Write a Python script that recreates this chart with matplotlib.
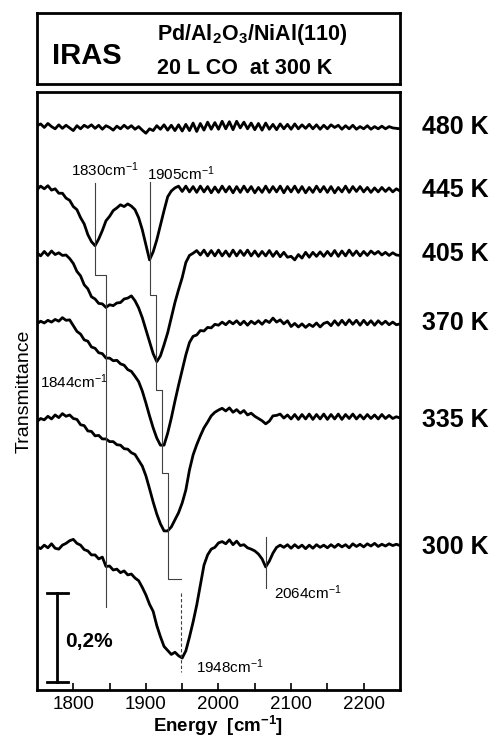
import matplotlib
matplotlib.use('Agg')
import matplotlib.pyplot as plt
import matplotlib.transforms as mtransforms
import numpy as np

plt.rcParams['font.family'] = ['Liberation Sans', 'DejaVu Sans']
plt.rcParams['mathtext.default'] = 'regular'

# energy grid of the spectra [cm-1]
energy = np.arange(1750, 2251, 5)

# transmittance change, units of 0.01 %, relative to each baseline
t480 = [0.3, 0.7, -0.1, 0.8, 0.1, -0.4, 0.5, -0.3, 0.4, -0.2,
        -0.8, 0.3, -0.4, 0.4, -0.1, 0.5, -0.3, 0.4, -0.5, 0.3,
        -0.1, -0.7, 0.2, -0.4, 0.4, -0.3, 0.3, -0.5, 0.1, -0.7,
        -1.4, -0.4, -0.8, 0.3, -0.5, 0.5, -0.7, 0.4, -0.8, 0.5,
        -0.9, 0.6, -0.8, 0.9, -1.0, 0.8, -0.7, 1.1, -0.5, 1.0,
        -0.5, 1.3, -0.4, 1.2, -0.6, 1.3, -0.2, 1.1, -0.4, 0.9,
        -0.6, 0.8, -0.7, 0.9, -0.5, 0.6, -0.6, 0.7, -0.4, 0.6,
        -0.5, 0.7, -0.4, 0.5, -0.3, 0.6, -0.4, 0.5, -0.5, 0.4,
        -0.4, 0.5, -0.1, 0.4, -0.5, 0.3, -0.4, 0.4, -0.5, 0.1,
        -0.4, 0.3, -0.5, 0.1, -0.4, 0.2, -0.4, 0.1, -0.2, -0.3, -0.4]
t445 = [0.0, 0.8, 0.2, 0.9, -0.1, 0.2, -0.8, -0.8, -1.9, -2.4,
        -3.8, -4.5, -6.3, -7.7, -10.1, -11.7, -12.6, -11.1, -9.2, -7.0,
        -6.0, -4.7, -4.1, -3.4, -3.8, -3.2, -3.7, -4.5, -6.3, -9.0,
        -12.4, -15.8, -14.0, -11.3, -8.0, -4.7, -1.6, -0.3, 0.4, 0.8,
        -0.4, 0.8, -0.5, 0.7, -0.6, 0.8, -0.5, 0.7, -0.7, 0.6,
        -0.6, 0.8, -0.5, 0.7, -0.7, 0.7, -0.6, 0.8, -0.5, 0.7,
        -0.7, 0.5, -0.6, 0.8, -0.6, 0.7, -0.5, 0.8, -0.7, 0.7,
        -0.5, 0.8, -0.6, 0.7, -0.7, 0.5, -0.6, 0.8, -0.5, 0.7,
        -0.6, 0.7, -0.7, 0.5, -0.5, 0.8, -0.6, 0.7, -0.4, 0.7,
        -0.5, 0.5, -0.6, 0.4, -0.5, 0.5, -0.4, 0.4, -0.5, 0.2, -0.3]
t405 = [0.2, -0.5, 0.5, -0.4, 0.6, -0.2, 0.2, -0.4, -0.3, -1.1,
        -2.2, -4.0, -5.0, -7.0, -7.9, -9.7, -10.2, -11.2, -11.3, -12.1,
        -11.5, -11.7, -11.1, -11.0, -10.2, -10.0, -9.5, -10.6, -12.2, -14.4,
        -17.1, -19.8, -22.5, -24.3, -23.0, -20.5, -17.8, -14.4, -11.0, -8.1,
        -5.4, -2.0, -0.4, 0.1, 0.7, -0.3, 0.8, -0.5, 0.7, -0.5,
        0.8, -0.5, 0.6, -0.6, 0.8, -0.5, 0.7, -0.4, 0.8, -0.5,
        0.6, -0.6, 0.5, -0.5, 0.7, -0.6, 0.5, -0.7, 0.3, -0.8,
        -0.6, -1.4, -0.2, -1.0, 0.3, -0.8, 0.3, -0.6, 0.4, -0.6,
        0.5, -0.5, 0.7, -0.6, 0.6, -0.5, 0.8, -0.4, 0.6, -0.5,
        0.5, -0.4, 0.6, -0.1, 0.5, -0.3, 0.3, -0.4, 0.2, -0.3, -0.4]
t370 = [-0.2, 0.4, 0.0, 0.6, 0.2, 0.8, 0.4, 1.2, 0.6, 0.7,
        -0.6, -1.9, -2.5, -3.8, -4.1, -5.4, -5.7, -6.7, -6.9, -7.9,
        -7.9, -8.5, -8.4, -9.2, -9.5, -10.5, -10.9, -12.0, -13.2, -15.3,
        -18.0, -20.9, -23.6, -25.9, -27.5, -27.5, -24.8, -21.4, -17.6, -14.0,
        -10.6, -7.2, -4.4, -3.0, -2.7, -1.7, -1.8, -1.0, -1.1, -0.3,
        -0.5, 0.2, -0.4, 0.4, -0.2, 0.5, -0.4, 0.4, -0.5, 0.4,
        -0.2, 0.5, -0.3, 0.6, 0.1, 1.1, 0.2, 0.7, -0.2, 0.5,
        -0.8, -0.1, -0.9, -0.2, -1.0, -0.3, -0.8, 0.0, -0.9, -0.1,
        0.2, -0.6, 0.5, -0.5, 0.6, -0.4, 0.7, -0.3, 0.6, -0.5,
        0.6, -0.4, 0.5, -0.5, 0.5, -0.3, 0.4, -0.4, 0.2, -0.4, -0.2]
t335 = [-0.4, 0.3, 0.0, 0.8, 0.2, 1.1, 0.5, 1.4, 0.8, 1.1,
        0.3, 0.1, -1.1, -1.3, -2.5, -2.6, -3.6, -3.5, -4.3, -4.3,
        -4.9, -4.9, -5.6, -5.7, -6.5, -6.6, -7.4, -7.8, -9.1, -10.4,
        -12.6, -15.5, -18.5, -21.2, -23.4, -25.0, -25.0, -24.1, -22.5, -20.9,
        -18.7, -15.8, -11.3, -7.9, -5.6, -3.6, -1.8, -0.5, 0.9, 1.7,
        2.2, 2.6, 2.0, 2.7, 1.7, 2.3, 1.5, 2.1, 1.1, 1.5,
        0.8, 0.3, -0.2, -0.9, -0.3, 0.9, 1.0, 1.3, 0.4, 1.1,
        0.2, 1.2, 0.1, 1.2, 0.2, 1.3, 0.1, 1.2, 0.2, 1.3,
        0.1, 1.2, 0.2, 1.3, 0.1, 1.2, 0.3, 1.3, 0.2, 1.1,
        0.2, 1.2, 0.3, 1.1, 0.2, 1.2, 0.3, 1.0, 0.3, 0.7, 0.4]
t300 = [0.1, -0.4, 0.4, -0.2, 0.7, -0.3, -0.5, 0.4, 0.8, 1.4,
        1.7, 0.8, 0.4, -0.6, -0.9, -1.8, -1.8, -2.7, -2.3, -4.4,
        -4.3, -5.2, -5.0, -5.8, -5.4, -6.3, -6.1, -7.0, -7.6, -9.1,
        -10.8, -12.9, -14.5, -17.7, -20.2, -22.4, -23.3, -24.2, -23.7, -24.5,
        -25.0, -23.4, -20.3, -16.9, -13.1, -8.6, -4.1, -1.8, -0.5, -0.1,
        0.9, 1.2, 0.7, 1.6, 0.5, 1.3, 0.3, 0.5, -0.2, -0.5,
        -0.9, -1.6, -2.7, -4.5, -3.2, -1.4, -0.1, 0.4, -0.1, 0.5,
        -0.3, 0.5, -0.2, 0.4, -0.4, 0.4, -0.3, 0.5, -0.1, 0.4,
        -0.2, 0.5, -0.1, 0.6, 0.0, 0.5, -0.2, 0.7, 0.1, 0.6,
        0.0, 0.7, 0.2, 0.8, 0.1, 0.6, 0.2, 0.7, 0.3, 0.6, 0.3]

spectra = [t480, t445, t405, t370, t335, t300]
temps = ['480 K', '445 K', '405 K', '370 K', '335 K', '300 K']
offsets = [-7.9, -22.0, -36.4, -52.0, -73.8, -102.4]

# peak marker lines (energy, level pairs)
step_1830_x = [1830, 1830, 1845, 1845]
step_1830_y = [-20.5, -41.2, -41.2, -115.9]
step_1905_x = [1906, 1906, 1914, 1914, 1922, 1922, 1930, 1930, 1948]
step_1905_y = [-20.3, -45.7, -45.7, -67.1, -67.1, -85.7, -85.7, -109.6, -109.6]

fig = plt.figure(figsize=(4.98, 7.42), dpi=100)

# header box
hx = fig.add_axes([0.0743, 0.887, 0.7289, 0.0955])
hx.set_xticks([])
hx.set_yticks([])
for s in hx.spines.values():
    s.set_linewidth(2.0)
hx.text(0.04, 0.40, 'IRAS', fontsize=21, fontweight='bold', va='center', ha='left')
hx.text(0.33, 0.70, 'Pd/Al$_2$O$_3$/NiAl(110)', fontsize=15.5, fontweight='bold',
        va='center', ha='left')
hx.text(0.33, 0.22, '20 L CO  at 300 K', fontsize=15.5, fontweight='bold',
        va='center', ha='left')

ax = fig.add_axes([0.0743, 0.0701, 0.7289, 0.806])
for sp, off in zip(spectra, offsets):
    ax.plot(energy, np.array(sp) + off, color='black', lw=2.0)

lab = mtransforms.blended_transform_factory(ax.transAxes, ax.transData)
for name, off in zip(temps, offsets):
    ax.text(1.06, off, name, transform=lab, fontsize=18, fontweight='bold',
            va='center', ha='left')

# peak annotations
ax.plot(step_1830_x, step_1830_y, color='0.25', lw=0.8)
ax.plot(step_1905_x, step_1905_y, color='0.25', lw=0.8)
ax.plot([1948, 1948], [-112.7, -130.5], color='0.25', lw=0.8, ls=(0, (3, 2)))
ax.plot([2065, 2065], [-100.1, -111.6], color='0.25', lw=0.8)
ax.text(1843, -17.6, '1830cm$^{-1}$', fontsize=11, ha='center', va='center')
ax.text(1949, -18.5, '1905cm$^{-1}$', fontsize=11, ha='center', va='center')
ax.text(1754, -65.3, '1844cm$^{-1}$', fontsize=11, ha='left', va='center')
ax.text(2077, -112.7, '2064cm$^{-1}$', fontsize=11, ha='left', va='center')
ax.text(1969, -129.4, '1948cm$^{-1}$', fontsize=11, ha='left', va='center')

# 0.2 % scale bar
ax.plot([1778, 1778], [-112.7, -132.7], color='black', lw=2.0)
ax.plot([1764, 1793], [-112.7, -112.7], color='black', lw=2.0)
ax.plot([1764, 1793], [-132.7, -132.7], color='black', lw=2.0)
ax.text(1789, -123.7, '0,2%', fontsize=15, fontweight='bold', va='center', ha='left')

ax.set_xlim(1750, 2250)
ax.set_ylim(-134.6, 0)
ax.set_xticks([1800, 1900, 2000, 2100, 2200])
ax.set_xticks([1850, 1950, 2050, 2150], minor=True)
ax.set_yticks([])
ax.tick_params(axis='x', which='both', direction='in', length=5, width=1.2,
               labelsize=13.5, pad=4)
for s in ax.spines.values():
    s.set_linewidth(2.0)
ax.set_xlabel('Energy  [cm$^{-1}$]', fontsize=13.5, fontweight='bold', labelpad=1)
ax.set_ylabel('Transmittance', fontsize=14, labelpad=3)

fig.savefig('out.png', dpi=100)
